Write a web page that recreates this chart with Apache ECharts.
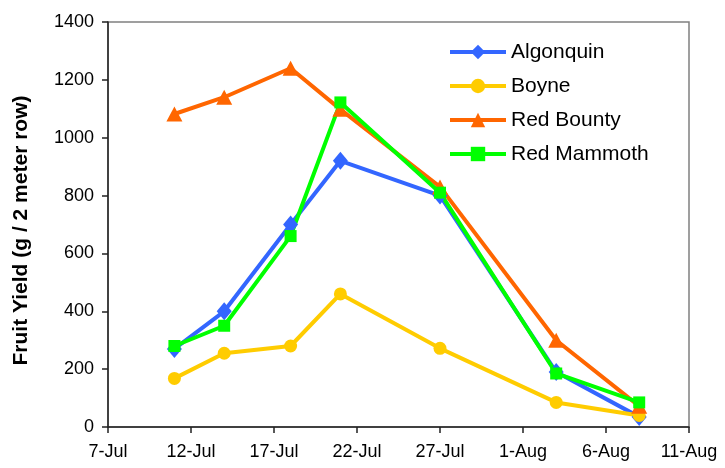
<!DOCTYPE html>
<html>
<head>
<meta charset="utf-8">
<script src="https://cdn.jsdelivr.net/npm/echarts@6/dist/echarts.min.js"></script>
<style>
  html, body { margin: 0; padding: 0; background: #fff; }
  #lineChart { width: 725px; height: 468px; }
</style>
</head>
<body>
<div id="lineChart"></div>
<script>
// picking dates
const startDate = '2008-07-07';
const harvestDates = ['2008-07-11', '2008-07-14', '2008-07-18', '2008-07-21', '2008-07-27', '2008-08-03', '2008-08-08'];
const tickLabels = ['7-Jul', '12-Jul', '17-Jul', '22-Jul', '27-Jul', '1-Aug', '6-Aug', '11-Aug'];

// yield per variety (g / 2 meter row)
const varieties = ['Algonquin', 'Boyne', 'Red Bounty', 'Red Mammoth'];
const algonquin = [270, 400, 700, 920, 800, 190, 35];
const boyne = [168, 255, 280, 460, 272, 85, 40];
const redBounty = [1082, 1140, 1240, 1098, 830, 300, 72];
const redMammoth = [280, 350, 660, 1122, 810, 185, 85];

// days since start date, so the x axis can tick every 5 days
function dayOf(d) {
	return (Date.parse(d) - Date.parse(startDate)) / 86400000;
}
const days = harvestDates.map(dayOf);

function pairs(vals) {
	return vals.map((v, i) => [days[i], v]);
}

let myChart = echarts.init(document.getElementById('lineChart'));

const font = '"Liberation Sans", Arial, sans-serif';

function mkSeries(name, vals, color, symbol, size) {
	return {
		name: name,
		type: 'line',
		data: pairs(vals),
		symbol: symbol,
		symbolSize: size,
		lineStyle: { color: color, width: 4 },
		itemStyle: { color: color },
		emphasis: { disabled: true },
		animation: false
	};
}

myChart.setOption({
	animation: false,
	textStyle: { fontFamily: font, color: '#000' },
	grid: {
		left: 108, right: 36, top: 22, bottom: 41,
		show: true, borderColor: '#808080', borderWidth: 1.5
	},
	legend: {
		orient: 'vertical',
		left: 448, top: 41,
		padding: 0,
		itemWidth: 56, itemHeight: 18,
		itemGap: 12,
		lineStyle: { width: 4 },
		textStyle: { fontSize: 21, fontFamily: font, color: '#000', lineHeight: 22 },
		data: varieties
	},
	xAxis: {
		type: 'value',
		min: 0, max: 35, interval: 5,
		axisLine: { lineStyle: { color: '#222', width: 1.5 } },
		axisTick: { length: 6, lineStyle: { color: '#222', width: 1.5 } },
		splitLine: { show: false },
		axisLabel: {
			fontSize: 18, color: '#000', margin: 16,
			formatter: v => tickLabels[Math.round(v / 5)]
		}
	},
	yAxis: {
		type: 'value',
		min: 0, max: 1400, interval: 200,
		name: 'Fruit Yield (g / 2 meter row)',
		nameLocation: 'middle',
		nameGap: 76,
		nameTextStyle: { fontSize: 21, fontWeight: 'bold', color: '#000', fontFamily: font, padding: [0, 12, 0, 0] },
		axisLine: { show: true, lineStyle: { color: '#222', width: 1.5 } },
		axisTick: { show: true, length: 6, lineStyle: { color: '#222', width: 1.5 } },
		splitLine: { show: false },
		axisLabel: { fontSize: 18, color: '#000', margin: 14, formatter: v => String(v) }
	},
	series: [
		mkSeries('Algonquin', algonquin, '#3366FF', 'diamond', [15, 18]),
		mkSeries('Boyne', boyne, '#FFCC00', 'circle', 13),
		mkSeries('Red Bounty', redBounty, '#FF6600', 'triangle', [16, 15]),
		mkSeries('Red Mammoth', redMammoth, '#00FF00', 'rect', 12)
	]
});
</script>
</body>
</html>
